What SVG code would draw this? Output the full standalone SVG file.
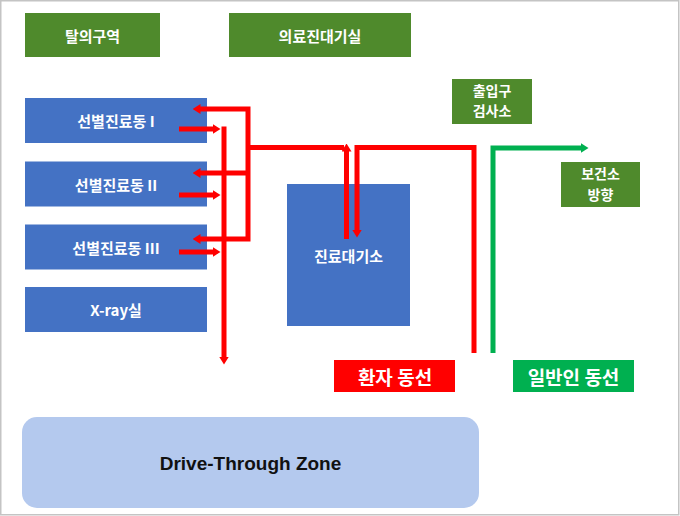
<svg xmlns="http://www.w3.org/2000/svg" width="680" height="516" viewBox="0 0 680 516">
<style>
.gbox{fill:#4f8a2c}
.bbox{fill:#4472c4}
.t{font-family:"Noto Sans CJK KR","Liberation Sans",sans-serif;font-weight:bold;fill:#ffffff;text-anchor:middle;dominant-baseline:central;font-size:15px}
.two{font-size:14px}
.big{font-size:19px}
.red{fill:none;stroke:#ff0000;stroke-width:5;stroke-linejoin:miter}
.grn{fill:none;stroke:#00b050;stroke-width:5;stroke-linejoin:miter}
.dt{font-family:"Liberation Sans",Arial,sans-serif;font-weight:bold;font-size:19px;fill:#111111;text-anchor:middle;dominant-baseline:central}
</style>
<defs>
<marker id="ar" markerUnits="userSpaceOnUse" markerWidth="8" markerHeight="10" viewBox="0 0 8 10" refX="0.5" refY="5" orient="auto-start-reverse"><path d="M0,0 L8,5 L0,10 z" fill="#ff0000"/></marker>
<marker id="ag" markerUnits="userSpaceOnUse" markerWidth="8" markerHeight="10" viewBox="0 0 8 10" refX="0.5" refY="5" orient="auto"><path d="M0,0 L8,5 L0,10 z" fill="#00b050"/></marker>
</defs>
<rect x="0" y="0" width="680" height="516" fill="#ffffff"/>
<rect x="0.75" y="0.75" width="678" height="514" fill="none" stroke="#c4c4c4" stroke-width="1.5"/>

<g id="n-talui"><rect class="gbox" x="25" y="13" width="135" height="44"/><text class="t" x="92.5" y="35">탈의구역</text></g>
<g id="n-uiryo"><rect class="gbox" x="229" y="13" width="182" height="44"/><text class="t" x="320" y="35">의료진대기실</text></g>
<g id="n-gate"><rect class="gbox" x="452" y="79" width="80" height="45"/><text class="t two" x="492" y="89.5"><tspan x="492">출입구</tspan><tspan x="492" dy="20.6">검사소</tspan></text></g>
<g id="n-health"><rect class="gbox" x="561" y="162" width="79" height="45"/><text class="t two" x="600.5" y="173"><tspan x="600.5">보건소</tspan><tspan x="600.5" dy="20.6">방향</tspan></text></g>

<g id="n-s1"><rect class="bbox" x="25" y="98" width="182" height="45"/><text class="t" x="116" y="120.5">선별진료동 I</text></g>
<g id="n-s2"><rect class="bbox" x="25" y="161.5" width="182" height="45"/><text class="t" x="116" y="184">선별진료동 II</text></g>
<g id="n-s3"><rect class="bbox" x="25" y="224.5" width="182" height="45"/><text class="t" x="116" y="247">선별진료동 III</text></g>
<g id="n-xray"><rect class="bbox" x="25" y="287" width="182" height="45"/><text class="t" x="116" y="309.5">X-ray실</text></g>
<g id="n-wait"><rect class="bbox" x="287" y="184" width="123" height="142"/><text class="t" x="348.5" y="255">진료대기소</text></g>

<g id="n-patient"><rect x="334" y="360" width="121" height="32" fill="#ff0000"/><text class="t big" x="395" y="376">환자 동선</text></g>
<g id="n-public"><rect x="513" y="360" width="121" height="32" fill="#00b050"/><text class="t big" x="573.5" y="376">일반인 동선</text></g>

<g id="n-drive"><rect x="22" y="417" width="457" height="91" rx="15" ry="15" fill="#b4c9ee"/><text class="dt" x="250.5" y="463">Drive-Through Zone</text></g>

<g id="connectors">
<path class="red" d="M200,109 L248,109 L248,239 L200,239" marker-start="url(#ar)" marker-end="url(#ar)"/>
<path class="red" d="M248,173 L200,173" marker-end="url(#ar)"/>
<path class="red" d="M248,147.5 L344,147.5"/>
<path class="red" d="M179,129 L213,129" marker-end="url(#ar)"/>
<path class="red" d="M179,195 L213,195" marker-end="url(#ar)"/>
<path class="red" d="M179,252 L213,252" marker-end="url(#ar)"/>
<path class="red" d="M224,126.5 L224,357" marker-end="url(#ar)"/>
<path class="red" d="M346.5,239 L346.5,151" marker-end="url(#ar)"/>
<path class="red" d="M474,353 L474,147.5 L357,147.5 L357,230" marker-end="url(#ar)"/>
<path class="grn" d="M493,353 L493,148 L581,148" marker-end="url(#ag)"/>
</g>
</svg>
